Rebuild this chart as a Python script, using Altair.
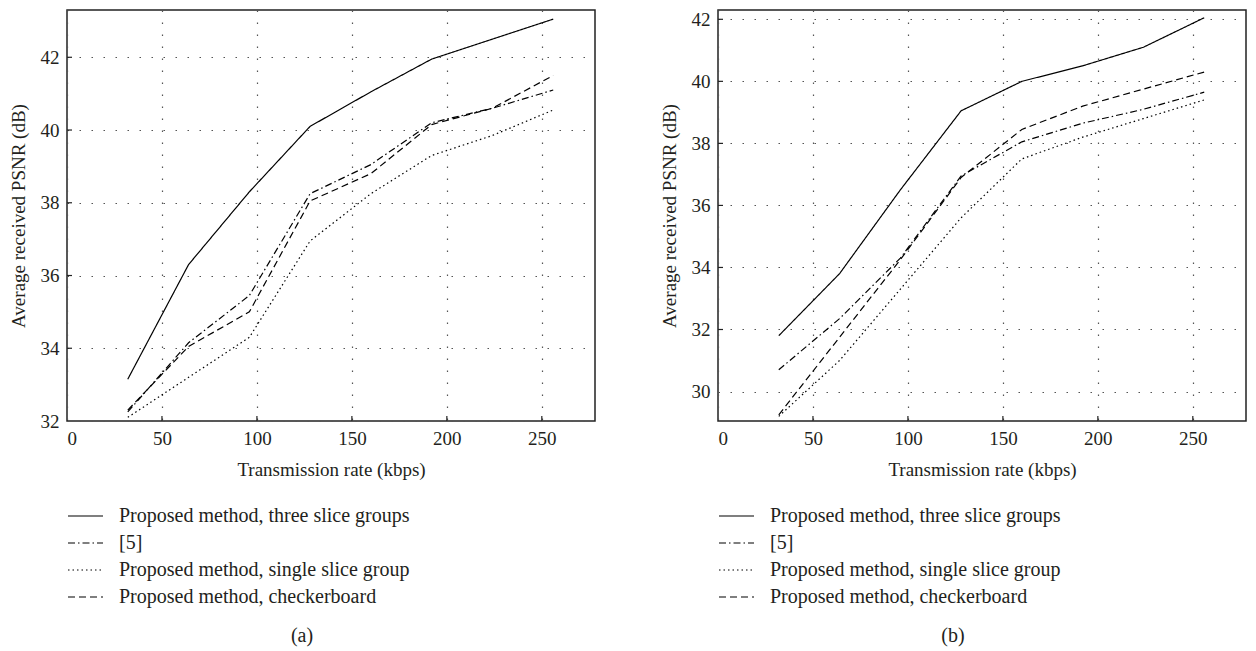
import altair as alt
import pandas as pd

# ---------------- data ----------------
rate = [32, 64, 96, 128, 160, 192, 224, 256]
series_names = [
    "Proposed method, three slice groups",
    "[5]",
    "Proposed method, single slice group",
    "Proposed method, checkerboard",
]

# panel (a)
a_three = [33.15, 36.3, 38.3, 40.1, 41.05, 41.95, 42.5, 43.05]
a_ref5 = [32.25, 34.15, 35.45, 38.25, 39.05, 40.2, 40.6, 41.1]
a_single = [32.1, 33.2, 34.3, 36.95, 38.25, 39.3, 39.85, 40.55]
a_checker = [32.3, 34.05, 35.0, 38.05, 38.8, 40.15, 40.6, 41.5]

# panel (b)
b_three = [31.8, 33.8, 36.5, 39.05, 40.0, 40.5, 41.1, 42.05]
b_ref5 = [30.7, 32.35, 34.3, 36.95, 38.05, 38.65, 39.1, 39.65]
b_single = [29.2, 31.0, 33.3, 35.6, 37.5, 38.2, 38.8, 39.4]
b_checker = [29.25, 31.75, 34.25, 36.9, 38.45, 39.2, 39.75, 40.3]

x_ticks = [0, 50, 100, 150, 200, 250]
a_y_ticks = [32, 34, 36, 38, 40, 42]
b_y_ticks = [30, 32, 34, 36, 38, 40, 42]

a_y_domain = [32, 43.3]
b_y_domain = [29.05, 42.3]
x_domain = [0, 278]

dash_range = [[1, 0], [7, 3, 1.5, 3], [1.5, 3], [7, 4]]

FONT = "Liberation Serif"
TXT = "#231f20"
W, H = 528, 411
X_TITLE = "Transmission rate (kbps)"
Y_TITLE = "Average received PSNR (dB)"


def long_df(cols):
    rows = []
    for name, vals in zip(series_names, cols):
        for r, v in zip(rate, vals):
            rows.append({"rate": r, "psnr": v, "series": name})
    return pd.DataFrame(rows)


def panel(cols, y_domain, y_ticks, caption):
    df = long_df(cols)
    xs = alt.Scale(domain=x_domain, nice=False, zero=False)
    ys = alt.Scale(domain=y_domain, nice=False, zero=False)
    x_axis = alt.Axis(values=x_ticks, title=X_TITLE)
    y_axis = alt.Axis(values=y_ticks, title=Y_TITLE)

    lines = alt.Chart(df).mark_line(color="black", strokeWidth=1.2, clip=True).encode(
        x=alt.X("rate:Q", scale=xs, axis=x_axis, title=X_TITLE),
        y=alt.Y("psnr:Q", scale=ys, axis=y_axis, title=Y_TITLE),
        strokeDash=alt.StrokeDash(
            "series:N",
            scale=alt.Scale(domain=series_names, range=dash_range),
            sort=series_names,
            legend=alt.Legend(
                orient="none", legendX=0, legendY=496, title=None,
                symbolType="stroke", symbolSize=1225, symbolStrokeWidth=1.2,
                symbolStrokeColor="black", labelFont=FONT, labelFontSize=20,
                labelColor=TXT, clipHeight=20, rowPadding=7, labelOffset=15,
                padding=0, direction="vertical", labelLimit=600,
            ),
        ),
    )

    xt = alt.Chart(pd.DataFrame({"rate": x_ticks[1:]})).mark_rule(
        color="#222", strokeWidth=1.2).encode(
        x=alt.X("rate:Q", scale=xs, axis=x_axis, title=X_TITLE),
        y=alt.value(H), y2=alt.value(H - 5))
    yt = alt.Chart(pd.DataFrame({"psnr": y_ticks[1:]})).mark_rule(
        color="#222", strokeWidth=1.2).encode(
        y=alt.Y("psnr:Q", scale=ys, axis=y_axis, title=Y_TITLE),
        x=alt.value(0), x2=alt.value(5))

    return alt.layer(lines, xt, yt).properties(
        width=W, height=H,
        title=alt.TitleParams(text=caption, orient="bottom", anchor="middle",
                              frame="bounds", font=FONT, fontSize=20,
                              fontWeight="normal", color=TXT, offset=19),
    )


left = panel([a_three, a_ref5, a_single, a_checker], a_y_domain, a_y_ticks, "(a)")
right = panel([b_three, b_ref5, b_single, b_checker], b_y_domain, b_y_ticks, "(b)")

chart = alt.hconcat(left, right, spacing=63).resolve_scale(
    strokeDash="independent"
).resolve_legend(
    strokeDash="independent"
).properties(
    padding={"left": 0, "top": 1, "right": 0, "bottom": 0}
).configure_view(
    stroke="#222", strokeWidth=1.5
).configure_axis(
    labelFont=FONT, labelFontSize=19, labelColor=TXT,
    titleFont=FONT, titleFontSize=19, titleFontWeight="normal", titleColor=TXT,
    labelPadding=8, titlePadding=12, ticks=False, domain=False,
    grid=True, gridColor="#555", gridDash=[1.5, 10.5], gridWidth=1.2,
).configure_legend(
    labelFont=FONT
)

chart.save("out.html", embed_options={"renderer": "svg", "actions": False})
